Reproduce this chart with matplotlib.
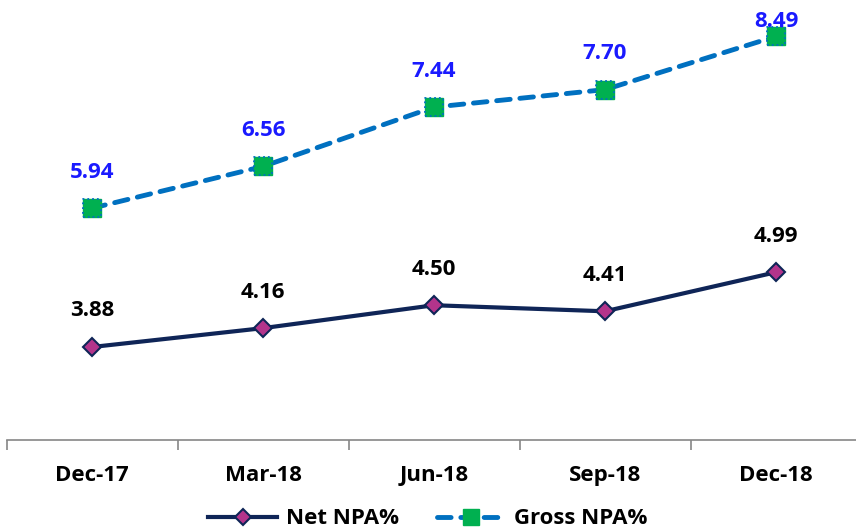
import matplotlib.pyplot as plt
import numpy as np

quarters = ["Dec-17", "Mar-18", "Jun-18", "Sep-18", "Dec-18"]
net_npa = [3.88, 4.16, 4.50, 4.41, 4.99]
gross_npa = [5.94, 6.56, 7.44, 7.70, 8.49]

plt.rcParams["font.family"] = ["Open Sans", "DejaVu Sans"]
plt.rcParams["font.weight"] = "bold"
FS = 16

fig = plt.figure(figsize=(8.56, 5.31), dpi=100)
ax = fig.add_axes([6.5 / 856, 91 / 531, 855 / 856, 438 / 531])

x = np.arange(len(quarters))

net_color = "#0f2557"
gross_color = "#0070c0"

ax.plot(x, net_npa, color=net_color, linewidth=3, marker="D", markersize=9,
        markerfacecolor="#b3348b", markeredgecolor=net_color, markeredgewidth=1.5,
        label="Net NPA%", zorder=3)
ax.plot(x, gross_npa, color=gross_color, linewidth=3.5, linestyle=(0, (2.8, 2.0)),
        dash_capstyle="round", marker="s", markersize=13,
        markerfacecolor="#00b050", markeredgecolor="#00b050", markeredgewidth=1,
        label="Gross NPA%", zorder=3)
# dotted outline on the square markers
ax.scatter(x, gross_npa, s=13 ** 2, marker="s", facecolors="none",
           edgecolors=gross_color, linewidths=1.3, linestyles=":", zorder=4)

for xi, v in zip(x, net_npa):
    ax.annotate(f"{v:.2f}", (xi, v), xytext=(0, 26), textcoords="offset points",
                ha="center", va="center", fontsize=FS, fontweight="bold",
                color="black")
for i, (xi, v) in enumerate(zip(x, gross_npa)):
    # last label sits lower so it stays inside the figure
    dy = 11 if i == len(x) - 1 else 26
    ax.annotate(f"{v:.2f}", (xi, v), xytext=(0, dy), textcoords="offset points",
                ha="center", va="center", fontsize=FS, fontweight="bold",
                color="#1a1aff", zorder=5)

ax.set_xlim(-0.5, len(quarters) - 0.5)
ax.set_ylim(2.5, 9)
ax.set_xticks(x)
ax.set_xticklabels(quarters, fontsize=FS, fontweight="bold")
ax.set_xticks(np.arange(len(quarters) + 1) - 0.5, minor=True)
ax.tick_params(axis="x", which="major", length=0, pad=18)
ax.tick_params(axis="x", which="minor", length=7, color="#868686", width=1.2)
ax.set_yticks([])
for side in ["top", "right", "left"]:
    ax.spines[side].set_visible(False)
ax.spines["bottom"].set_color("#868686")
ax.spines["bottom"].set_linewidth(1.2)

fig.legend(loc="center", bbox_to_anchor=(0.5, 12 / 531), ncol=2, frameon=False,
           handlelength=3.1, columnspacing=1.7, handletextpad=0.4,
           markerscale=0.85, prop={"weight": "bold", "size": FS})

fig.savefig("out.png", dpi=100)
